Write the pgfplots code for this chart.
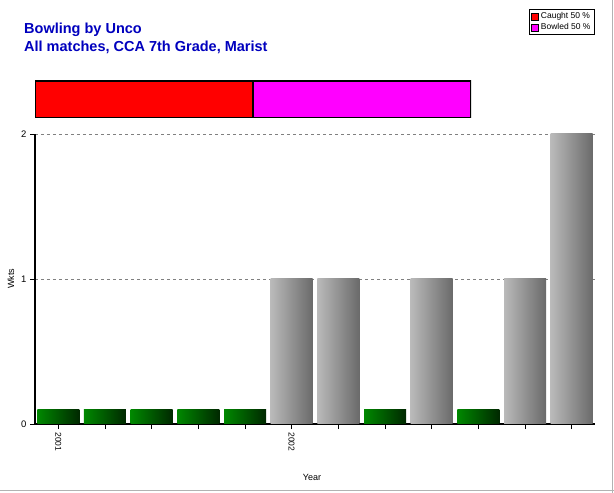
\documentclass[border=0pt]{standalone}
\usepackage{fontspec}
\setmainfont{Liberation Sans}
\usepackage{pgfplots}
\pgfplotsset{compat=1.18}
\definecolor{ttl}{RGB}{0,0,190}
\definecolor{gL}{RGB}{186,186,186}
\definecolor{gR}{RGB}{106,106,106}
\definecolor{grL}{RGB}{0,136,0}
\definecolor{grR}{RGB}{0,40,0}
\definecolor{mag}{RGB}{255,0,255}
\pgfplotsset{
  grbar/.style={ybar, bar width=42pt, bar shift=0pt, draw=none, left color=grL, right color=grR},
  gybar/.style={ybar, bar width=42pt, bar shift=0pt, draw=none, left color=gL, right color=gR}}
\begin{document}
\begin{tikzpicture}[x=1pt,y=1pt]
\useasboundingbox (0,0) rectangle (614,493);
\fill[white] (0,0) rectangle (614,493);
\draw[gray!60, line width=1pt] (0,2.5) -- (614,2.5);
\draw[gray!60, line width=1pt] (612.5,0) -- (612.5,493);
\node[anchor=base west, text=ttl, font=\bfseries\fontsize{14.5}{16}\selectfont, inner sep=0] at (24,459) {Bowling by Unco};
\node[anchor=base west, text=ttl, font=\bfseries\fontsize{14.5}{16}\selectfont, inner sep=0] at (24,441) {All matches, CCA 7th Grade, Marist};
% percentage strip
\begin{axis}[at={(35pt,375pt)}, anchor=south west, scale only axis,
  width=436pt, height=37pt, xbar stacked, bar width=37pt,
  xmin=0, xmax=100, ymin=-0.5, ymax=0.5, hide axis,
  legend style={at={(1.284,2.946)}, anchor=north east, draw=black, line width=0.6pt,
    font=\fontsize{8.5}{9.5}\selectfont, inner xsep=2pt, inner ysep=1.5pt, row sep=-1pt, cells={anchor=west}},
  legend image code/.code={\draw[#1, draw=black, line width=0.5pt] (0pt,-3.5pt) rectangle (7pt,3.5pt);}]
\addplot[fill=red, draw=black, line width=1.2pt] coordinates {(50,0)};
\addplot[fill=mag, draw=black, line width=1.2pt] coordinates {(50,0)};
\legend{Caught 50 \%, Bowled 50 \%}
\end{axis}
% main axis
\begin{axis}[at={(35pt,69pt)}, anchor=south west, scale only axis,
  width=560pt, height=290pt,
  xmin=-0.5, xmax=11.5, ymin=0, ymax=2,
  axis x line*=bottom, axis y line*=left,
  x axis line style={-, line width=2pt}, y axis line style={-, line width=2pt},
  xtick={0,...,11}, xticklabels={2001,,,,,2002,,,,,,},
  ytick={0,1,2},
  tick align=outside, major tick length=5pt,
  tick style={black, line width=0.5pt},
  ymajorgrids, grid style={dashed, gray, line width=0.6pt},
  xticklabel style={rotate=-90, anchor=west, font=\fontsize{8.5}{9}\selectfont},
  yticklabel style={font=\fontsize{9.5}{10}\selectfont},
  /pgf/number format/assume math mode=true,
  xlabel={Year}, ylabel={Wkts},
  label style={font=\fontsize{9}{10}\selectfont},
  xlabel style={at={(axis description cs:0.4946,-0.186)}, anchor=center},
  ylabel style={at={(axis description cs:-0.0429,0.5)}, anchor=center},
  clip=false]
\addplot[grbar] coordinates {(0,0.1)};
\addplot[grbar] coordinates {(1,0.1)};
\addplot[grbar] coordinates {(2,0.1)};
\addplot[grbar] coordinates {(3,0.1)};
\addplot[grbar] coordinates {(4,0.1)};
\addplot[gybar] coordinates {(5,1)};
\addplot[gybar] coordinates {(6,1)};
\addplot[grbar] coordinates {(7,0.1)};
\addplot[gybar] coordinates {(8,1)};
\addplot[grbar] coordinates {(9,0.1)};
\addplot[gybar] coordinates {(10,1)};
\addplot[gybar] coordinates {(11,2)};
\end{axis}
\end{tikzpicture}
\end{document}
